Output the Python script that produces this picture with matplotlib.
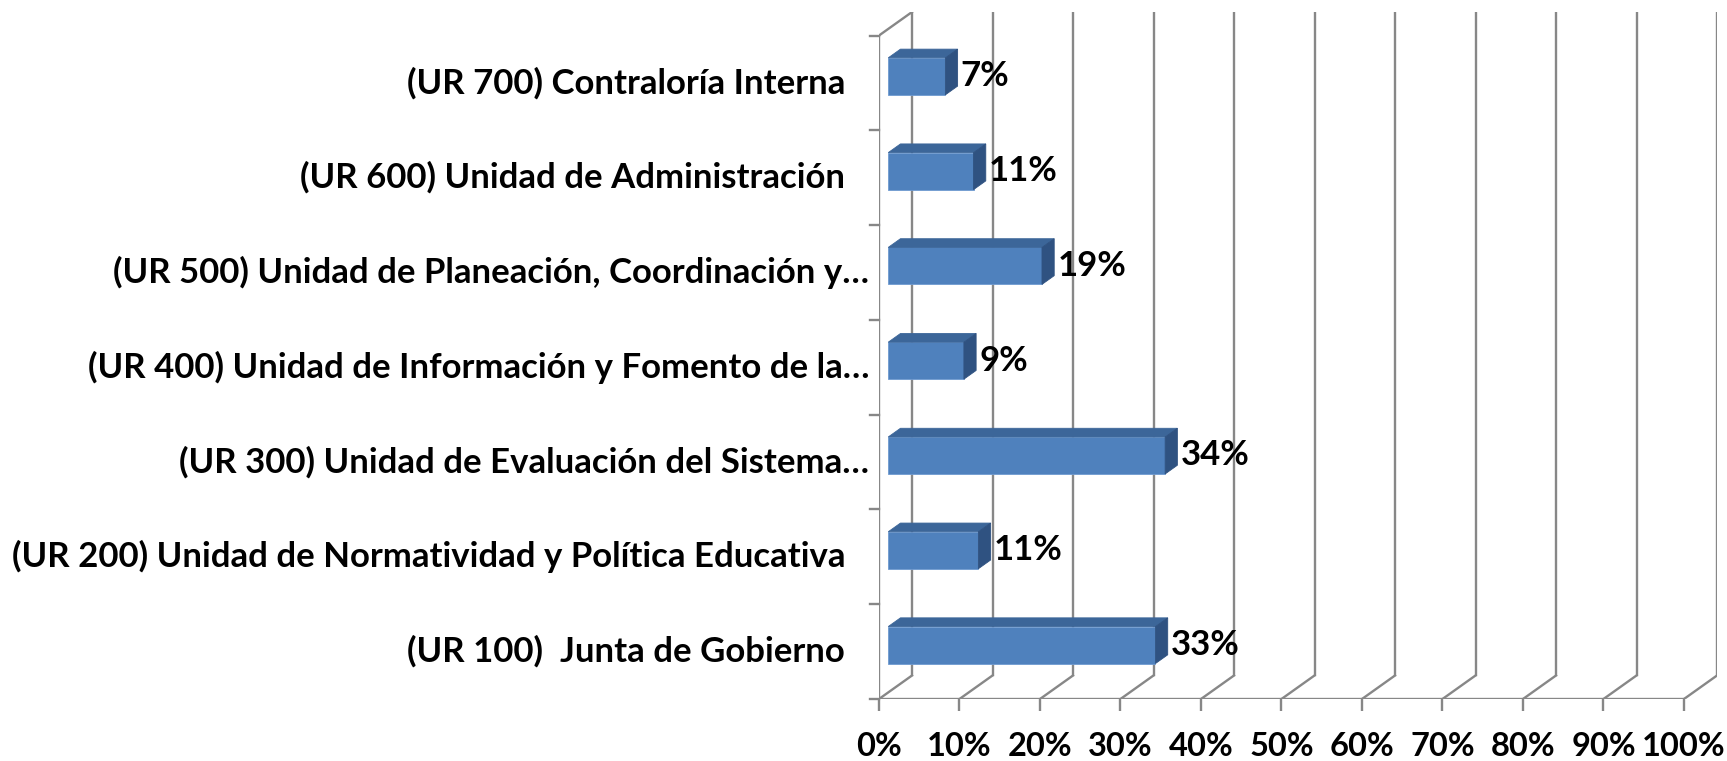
#!/usr/bin/env python3
"""3-D style horizontal bar chart: share by unidad responsable (UR)."""

import matplotlib

matplotlib.use("Agg")
import matplotlib.pyplot as plt
from matplotlib.patches import Polygon
from matplotlib.transforms import offset_copy

# bottom to top, as the chart stacks them
categories = [
    "(UR 100)  Junta de Gobierno",
    "(UR 200) Unidad de Normatividad y Política Educativa",
    "(UR 300) Unidad de Evaluación del Sistema…",
    "(UR 400) Unidad de Información y Fomento de la…",
    "(UR 500) Unidad de Planeación, Coordinación y…",
    "(UR 600) Unidad de Administración",
    "(UR 700) Contraloría Interna",
]
values = [33.2, 11.2, 34.4, 9.4, 19.1, 10.6, 7.1]
x_ticks = list(range(0, 101, 10))
x_tick_labels = [f"{t}%" for t in x_ticks]

FONT = "Lato"
FS = 25
GRID = "#878787"
FRONT = "#4f81bd"
TOP = "#3c6699"
SIDE = "#2f5281"

# depth of the 3-D box in data units (x in %, y in category steps)
DX = 4.1
DY = 0.248
BAR_FRONT, BAR_BACK = 0.28, 0.65
BAR_H = 0.39


def main() -> None:
    W, H = 1727, 761
    fig = plt.figure(figsize=(W / 100, H / 100), dpi=100)
    left, right, bottom, top = 879, 1717, 699, 12
    ax = fig.add_axes([left / W, 1 - bottom / H, (right - left) / W, (bottom - top) / H])
    n = len(categories)
    y0, y1 = -0.5, n - 0.5
    ax.set_xlim(0, 100 + DX)
    ax.set_ylim(y0, y1 + DY)
    for s in ax.spines.values():
        s.set_visible(False)
    ax.set_yticks([])

    lw = 1.7
    # back wall + floor gridlines
    for t in x_ticks:
        ax.plot([t + DX, t + DX], [y0 + DY, y1 + DY], color=GRID, lw=lw, zorder=1)
        ax.plot([t, t + DX], [y0, y0 + DY], color=GRID, lw=lw, zorder=1)
    ax.plot([0, 100], [y0, y0], color=GRID, lw=lw, zorder=1)
    # left side wall
    ax.plot([0, 0], [y0, y1], color=GRID, lw=lw, zorder=1)
    ax.plot([0, DX], [y1, y1 + DY], color=GRID, lw=lw, zorder=1)
    for k in range(n + 1):
        ax.plot([-1.1, 0], [y0 + k, y0 + k], color=GRID, lw=lw, zorder=1, clip_on=False)

    # bars
    fx, fy = BAR_FRONT * DX, BAR_FRONT * DY
    bx, by = BAR_BACK * DX, BAR_BACK * DY
    ddx, ddy = bx - fx, by - fy
    for i, v in enumerate(values):
        xa, xb = fx, fx + v
        ya, yb = i - BAR_H / 2 + fy, i + BAR_H / 2 + fy
        ax.add_patch(Polygon([(xa, ya), (xb, ya), (xb, yb), (xa, yb)],
                             closed=True, fc=FRONT, ec="#6f9ad0", lw=0.6, zorder=3))
        ax.add_patch(Polygon([(xa, yb), (xb, yb), (xb + ddx, yb + ddy), (xa + ddx, yb + ddy)],
                             closed=True, fc=TOP, ec=TOP, lw=0.6, zorder=3))
        ax.add_patch(Polygon([(xb, ya), (xb + ddx, ya + ddy), (xb + ddx, yb + ddy), (xb, yb)],
                             closed=True, fc=SIDE, ec=SIDE, lw=0.6, zorder=3))
        ax.text(xb + ddx, i + fy, f"{v:.0f}%", transform=offset_copy(ax.transData, fig, x=3, units="dots"),
                ha="left", va="center", fontsize=FS, fontweight="bold", family=FONT, zorder=4)

    # category labels
    for i, lab in enumerate(categories):
        pad = 10 if lab.endswith("…") else 34
        ax.text(0, i, lab, transform=offset_copy(ax.transData, fig, x=-pad, units="dots"),
                ha="right", va="center", fontsize=FS, fontweight="bold", family=FONT)

    # x axis ticks
    ax.set_xticks(x_ticks, x_tick_labels)
    ax.tick_params(axis="x", length=8.6, width=lw, color=GRID, pad=15, labelsize=23.5)
    for lab in ax.get_xticklabels():
        lab.set_fontweight("bold")
        lab.set_family(FONT)

    fig.savefig("out.png", dpi=100)


if __name__ == "__main__":
    main()
